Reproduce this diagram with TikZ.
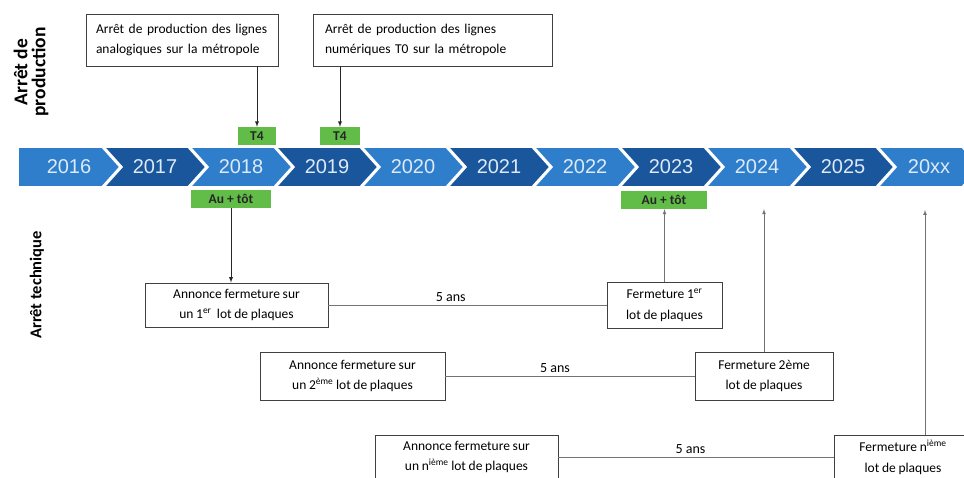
\documentclass[tikz,border=0pt]{standalone}
\usepackage{fontspec}
\setmainfont{Carlito}
\newfontfamily\yearfont{Liberation Sans}
\usepackage{xcolor}
\usetikzlibrary{arrows,calc}
\definecolor{lightblue}{RGB}{46,126,204}
\definecolor{darkblue}{RGB}{26,86,156}
\definecolor{tagreen}{RGB}{98,188,72}
\definecolor{yeartext}{RGB}{222,234,247}
\newcommand\boxfont{\fontsize{13.5}{20.5}\selectfont\spaceskip=0.2em plus 0.05em minus 0.05em\relax}

\begin{document}
\begin{tikzpicture}[x=1pt,y=-1pt,>=latex,
  box/.style={draw=black!75, line width=0.9pt, fill=white, inner sep=0pt, font=\boxfont},
  tag/.style={fill=tagreen, inner sep=0pt, minimum height=18pt, font=\bfseries\fontsize{13.5}{15}\selectfont, text=black!85},
  year/.style={text=yeartext, font=\yearfont\fontsize{20}{22}\selectfont},
  sidelabel/.style={rotate=90, align=center, font=\bfseries\fontsize{16.5}{18}\selectfont},
  gap/.style={above, font=\fontsize{14}{16}\selectfont},
  link/.style={draw=black!55, line width=0.7pt}]
\useasboundingbox (0,0) rectangle (964,478);
\clip (0,0) rectangle (964,478);

% Frise des annees
\foreach \yr/\col [count=\i from 0] in {2016/lightblue,2017/darkblue,2018/lightblue,2019/darkblue,2020/lightblue,2021/darkblue,2022/lightblue,2023/darkblue,2024/lightblue,2025/darkblue,20xx/lightblue} {
  \pgfmathsetmacro\L{18+86*\i}
  \pgfmathsetmacro\N{\i==0 ? 0 : 18}
  \fill[\col, draw=white, line width=1.6pt] (\L,147) -- ({\L+84},147) -- ({\L+102},167) -- ({\L+84},187) -- (\L,187) -- ({\L+\N},167) -- cycle;
  \node[year] (y\yr) at ({\L+51},167) {\yr};
}

% Arret de production
\node[sidelabel, font=\bfseries\fontsize{19.5}{18}\selectfont] (lblprod) at (31,72) {Arrêt de\\production};
\node[box, align=left, text width=172pt, inner xsep=10pt, minimum height=52pt] (prod1) at (182,40) {Arrêt de production des lignes\\analogiques sur la métropole};
\node[box, align=left, text width=215pt, inner xsep=12pt, minimum height=52pt] (prod2) at (432.5,40) {Arrêt de production des lignes\\numériques T0 sur la métropole};

\node[tag, minimum width=38pt] (t4a) at (257,136) {T4};
\node[tag, minimum width=40pt] (t4b) at (340,136) {T4};

\draw[->, black!85, line width=0.9pt] (prod1.south -| t4a) -- (t4a.north);
\draw[->, black!85, line width=0.9pt] (prod2.south -| t4b) -- (t4b.north);

% Arret technique
\node[sidelabel] (lbltech) at (37,285) {Arrêt technique};
\node[tag, minimum width=80pt] (autA) at (231,199) {Au + tôt};
\node[tag, minimum width=86pt] (autB) at (664,200) {Au + tôt};

\node[box, align=center, minimum width=183pt, minimum height=44pt] (ann1) at (236.5,305) {Annonce fermeture sur\\un 1\textsuperscript{er}\ \ lot de plaques};
\node[box, align=center, minimum width=115pt, minimum height=46pt] (ferm1) at (664.5,305) {Fermeture 1\textsuperscript{er}\\lot de plaques};
\node[box, align=center, minimum width=185pt, minimum height=48pt] (ann2) at (352.5,376) {Annonce fermeture sur\\un 2\textsuperscript{ème} lot de plaques};
\node[box, align=center, minimum width=138pt, minimum height=48pt] (ferm2) at (764,376) {Fermeture 2ème\\lot de plaques};
\node[box, align=center, minimum width=183pt, minimum height=44pt] (ann3) at (466.5,457) {Annonce fermeture sur\\un n\textsuperscript{ième} lot de plaques};
\node[box, align=center, minimum width=138pt, minimum height=44pt] (ferm3) at (903,457) {Fermeture n\textsuperscript{ième}\\lot de plaques};
\coordinate (tip3) at (925,210);

\draw[->, black!85, line width=0.9pt] (autA.south) -- (autA.south |- ann1.north);
\draw[link] (ann1.east) -- node[gap, pos=0.44] {5 ans} (ann1.east -| ferm1.west);
\draw[link] (ann2.east) -- node[gap, pos=0.44] {5 ans} (ann2.east -| ferm2.west);
\draw[link] (ann3.east) -- node[gap, pos=0.48] {5 ans} (ann3.east -| ferm3.west);

\draw[link, ->] (ferm1.north) -- (ferm1.north |- autB.south);
\draw[link, ->] (ferm2.north) -- (ferm2.north |- autB.south);
\draw[link, ->] (tip3 |- ferm3.north) -- (tip3);
\end{tikzpicture}
\end{document}
